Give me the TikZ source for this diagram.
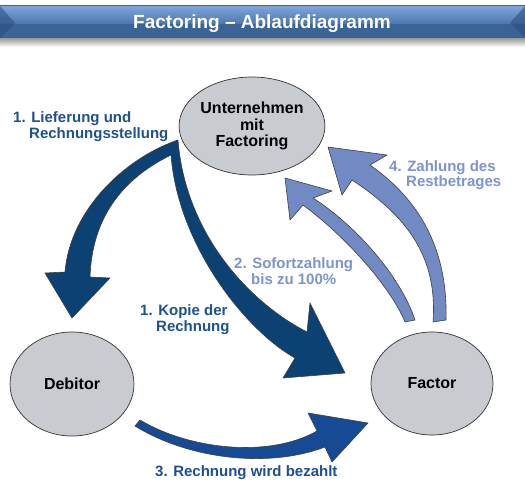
\documentclass[tikz,border=0pt]{standalone}
\usepackage{fontspec}
\setmainfont{Liberation Sans}
\usetikzlibrary{shapes.geometric}
\definecolor{navyarr}{RGB}{11,65,115}
\definecolor{navyarrb}{RGB}{22,74,148}
\definecolor{arrviolet}{RGB}{114,138,196}
\definecolor{lblblue}{RGB}{30,82,142}
\definecolor{lblblueb}{RGB}{30,78,150}
\definecolor{lblviolet}{RGB}{125,148,206}
\definecolor{ellfill}{RGB}{200,203,208}
\definecolor{barlow}{RGB}{58,99,150}
\definecolor{barhi}{RGB}{128,166,218}
\definecolor{barmid}{RGB}{78,120,178}
\definecolor{barbevel}{RGB}{44,80,128}
\begin{document}
\begin{tikzpicture}[x=1pt,y=-1pt,
  ell/.style={ellipse, draw=black!80, line width=0.7pt, fill=ellfill, inner sep=0pt,
    font=\fontsize{16}{16.5}\selectfont\bfseries, align=center},
  blk/.style={draw=black!75, line width=0.6pt, line join=round},
  lbl/.style={anchor=base west, inner sep=0pt, font=\fontsize{15}{16}\selectfont\bfseries}]
\useasboundingbox (0,0) rectangle (525,493);
\fill[white] (0,0) rectangle (525,493);
% title bar
\shade[top color=black!40, bottom color=white] (0,38) rectangle (525,47);
\fill[barlow] (0,5) rectangle (525,38);
\shade[top color=barhi, bottom color=barmid] (0,6) rectangle (525,23);
\fill[barbevel, opacity=0.6] (0,6) -- (15,23) -- (0,38) -- cycle;
\fill[barbevel, opacity=0.6] (525,6) -- (510,23) -- (525,38) -- cycle;
\node[font=\fontsize{19}{20}\selectfont\bfseries, text=white, anchor=base, inner sep=0pt] (title) at (262,28) {Factoring – Ablaufdiagramm};
% ellipses
\node[ell, minimum width=126pt, minimum height=98pt] (U) at (252,126) {Unternehmen\\mit\\Factoring};
\node[ell, minimum width=124pt, minimum height=104pt] (D) at (72,384) {Debitor};
\node[ell, minimum width=122pt, minimum height=103pt] (F) at (432,383.5) {Factor};
% navy fork arrow
\draw[blk, fill=navyarr] (178,140) .. controls (125,158) and (70,210) .. (65,272)
  -- (45,273) -- (72,318) -- (110,278) -- (90,277)
  .. controls (92,220) and (120,180) .. (171,155)
  .. controls (178,245) and (245,330) .. (295,358)
  -- (283,378) -- (345,373) -- (310,303) -- (307,332)
  .. controls (245,300) and (185,230) .. (178,140) -- cycle;
% arrow 3
\draw[blk, fill=navyarrb] (140,420) -- (135,426) .. controls (190,460) and (270,468) .. (325,447)
  -- (332,462) -- (368,423) -- (308,413) -- (317,431)
  .. controls (270,458) and (190,450) .. (140,420) -- cycle;
% arrow 2
\draw[blk, fill=arrviolet] (405,322) .. controls (392,290) and (350,240) .. (303,205)
  -- (290,220) -- (285,178) -- (332,191) -- (313,198)
  .. controls (355,225) and (400,275) .. (415,320) -- cycle;
% arrow 4
\draw[blk, fill=arrviolet] (433,322) .. controls (438,255) and (405,215) .. (352,180)
  -- (342,195) -- (328,147) -- (387,155) -- (370,165)
  .. controls (420,200) and (448,250) .. (446,320) -- cycle;
% labels
\node[lbl, text=lblblue] (l1a) at (13,122) {1. Lieferung und};
\node[lbl, text=lblblue] (l1b) at (29,138) {Rechnungsstellung};
\node[lbl, text=lblblue] (k1a) at (140,315) {1. Kopie der};
\node[lbl, text=lblblue] (k1b) at (156,331) {Rechnung};
\node[lbl, text=lblviolet] (s2a) at (234,268) {2. Sofortzahlung};
\node[lbl, text=lblviolet] (s2b) at (251,284) {bis zu 100\%};
\node[lbl, text=lblviolet] (z4a) at (389,171) {4. Zahlung des};
\node[lbl, text=lblviolet] (z4b) at (406,186) {Restbetrages};
\node[lbl, text=lblblueb] (r3) at (155,476) {3. Rechnung wird bezahlt};
\end{tikzpicture}
\end{document}
